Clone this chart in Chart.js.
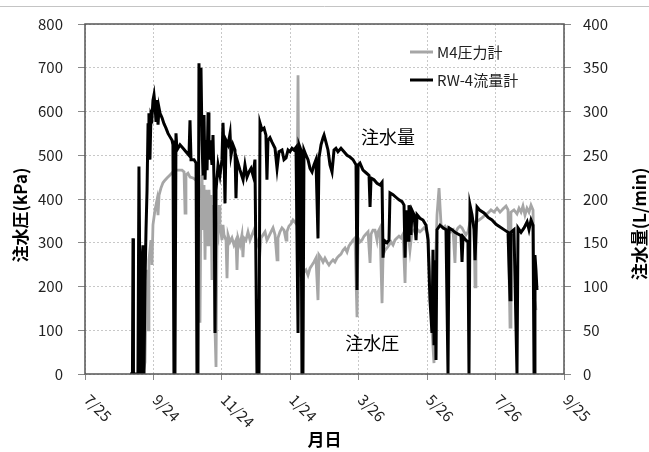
<!DOCTYPE html>
<html>
<head>
<meta charset="utf-8">
<script src="https://cdn.jsdelivr.net/npm/chart.js@4.4.1/dist/chart.umd.min.js"></script>
<style>
    html, body { margin: 0; padding: 0; background: #fff; }
    canvas { display: block; }
</style>
</head>
<body>
<canvas id="chart" width="649" height="452"></canvas>
<script>
// x values are days counted from 7/25
var tickLabels = ['7/25', '9/24', '11/24', '1/24', '3/26', '5/26', '7/26', '9/25'];

// M4圧力計 (kPa, left axis)
var pressureDays = [51.7,53.5,54.4,55.3,56.2,57.0,58.8,59.7,60.6,62.4,64.2,65.1,66.0,67.7,69.5,71.3,73.1,75.8,78.4,81.1,
    83.8,86.5,88.3,89.2,90.0,91.8,93.6,96.3,98.9,100.7,101.6,102.5,103.4,104.3,105.2,106.1,107.0,107.9,108.8,109.7,
    110.5,111.4,112.3,113.2,114.1,115.0,115.9,116.8,117.7,118.6,119.5,120.3,122.1,123.0,123.9,125.7,126.6,127.5,129.3,131.0,
    132.8,134.6,135.5,136.4,138.2,139.9,140.8,141.7,143.5,145.3,147.1,148.9,150.6,152.4,154.2,156.0,156.9,158.7,160.5,162.2,
    164.0,165.8,167.6,169.4,171.2,172.0,173.8,175.6,177.4,179.2,180.0,181.8,183.6,185.4,187.2,188.9,189.9,190.8,191.7,193.4,
    195.2,197.0,198.8,200.6,202.4,204.1,205.9,207.7,208.6,210.4,212.2,213.9,215.7,217.5,219.3,221.1,222.8,224.6,226.4,228.2,
    230.0,231.8,233.6,235.3,237.1,238.9,240.7,242.5,243.4,245.1,246.9,248.7,250.5,252.3,254.1,255.0,256.7,258.5,260.3,261.2,
    263.0,264.8,265.7,267.4,269.2,271.0,272.8,274.6,276.3,278.1,279.9,281.7,283.5,285.3,286.2,288.0,289.7,291.5,293.3,295.1,
    296.9,298.6,300.4,302.2,304.0,305.8,307.5,309.3,311.1,312.0,312.9,313.8,315.6,317.4,319.1,320.9,322.7,324.5,326.3,328.1,
    329.8,330.7,332.5,334.3,336.1,337.9,339.6,341.4,343.2,345.0,346.8,347.7,348.5,351.2,353.9,356.6,359.3,361.9,364.6,367.3,
    370.0,372.6,375.3,377.1,378.9,379.7,382.4,385.1,386.9,388.7,390.4,392.2,394.0,395.8,397.6,399.4,400.3,401.1,402.0];
var pressureValues = [0,27,169,238,101,261,306,249,341,375,398,363,409,425,437,443,448,455,462,466,
    466,466,462,368,455,459,450,448,443,466,283,117,398,455,329,432,261,421,398,295,
    421,363,409,215,386,283,101,16,329,318,386,341,306,341,318,306,219,318,302,311,
    295,306,238,311,295,318,267,311,306,325,306,318,329,311,295,279,311,318,325,306,
    315,325,334,318,261,311,325,334,329,306,325,338,343,352,347,341,683,283,226,219,
    233,238,226,242,249,256,265,169,272,265,256,265,256,249,256,261,256,265,270,274,
    283,288,279,293,299,306,311,130,311,302,306,315,320,325,254,320,329,329,306,325,
    334,162,272,283,288,295,302,295,306,311,315,311,320,208,315,325,283,325,329,320,
    329,325,329,334,329,318,215,101,25,169,283,363,425,341,334,338,329,334,325,329,
    254,325,334,338,334,325,318,325,347,352,347,199,347,352,357,363,368,375,370,379,
    370,377,384,375,107,370,375,366,379,370,384,363,379,370,386,375,192,169,146];

// RW-4流量計 (L/min, right axis)
var flowDays = [40.1,42.3,42.8,43.2,47.2,48.1,49.0,49.9,50.8,51.7,52.6,53.5,54.4,55.3,56.2,57.0,57.9,58.8,59.7,60.6,
    61.5,62.4,63.3,64.2,65.1,66.0,66.9,68.6,70.4,72.2,74.0,75.8,77.6,78.4,79.3,80.2,81.1,82.0,84.7,87.4,
    90.0,92.7,93.6,94.5,97.2,99.0,99.8,100.7,101.6,102.5,103.4,104.3,105.2,106.1,107.0,107.9,108.8,109.7,110.5,111.4,
    113.2,114.1,115.0,115.9,116.8,118.6,120.3,122.1,123.0,123.9,124.8,125.7,127.5,129.3,130.2,131.9,133.7,134.6,135.5,138.2,
    140.9,142.6,144.4,146.2,148.0,149.8,151.5,153.3,155.1,156.0,157.8,159.6,161.3,162.2,163.1,164.9,166.7,169.4,171.2,172.9,
    175.6,177.4,179.2,181.0,182.7,184.5,186.3,188.1,189.9,190.8,192.5,193.4,194.3,195.2,197.0,198.8,200.6,202.4,204.1,205.9,
    207.7,208.6,210.4,212.2,213.1,214.8,216.6,218.4,220.2,222.0,223.7,225.5,228.2,230.9,233.6,236.2,238.9,241.6,242.5,243.4,
    245.1,247.8,250.5,253.2,254.1,255.0,257.6,260.3,263.0,264.8,265.7,266.6,269.2,271.0,271.9,274.6,277.2,279.9,282.6,284.4,
    285.3,286.2,288.0,288.8,290.6,291.5,293.3,295.1,296.0,298.6,301.3,304.0,305.8,307.5,309.3,310.2,311.1,312.0,312.9,313.8,
    316.5,319.1,321.8,323.6,324.5,327.2,329.8,332.5,335.2,336.1,337.0,339.6,341.4,342.3,343.2,345.0,346.8,347.7,349.5,352.1,
    355.7,359.3,362.8,366.4,370.0,373.5,377.1,378.9,379.7,382.4,385.1,386.0,388.7,391.4,394.1,395.8,397.6,399.4,400.3,401.1,
    402.0,402.9];
var flowValues = [0,0,155,0,0,237,96,0,125,147,0,107,165,210,285,298,245,296,293,313,
    319,307,288,313,285,304,298,293,286,281,275,271,267,262,0,0,275,256,262,258,
    254,250,290,245,245,241,0,0,355,302,350,267,227,296,222,267,233,299,245,267,
    239,273,222,47,210,239,227,245,287,256,195,267,262,275,250,262,256,201,245,233,
    222,239,225,231,235,227,245,0,0,287,279,281,273,222,267,270,265,258,235,254,
    256,245,247,256,254,258,256,259,47,262,256,0,0,256,250,245,235,231,239,245,
    155,247,262,270,273,265,256,239,231,256,258,254,258,254,250,248,245,239,96,239,
    241,233,230,227,191,224,222,218,216,219,133,153,150,153,207,205,202,199,197,193,
    133,187,153,193,159,187,182,153,182,178,176,170,153,85,47,142,33,130,16,165,
    170,167,165,0,167,165,162,160,158,128,157,153,151,0,193,182,165,130,191,187,
    184,179,176,171,168,165,162,85,162,165,0,167,162,167,174,165,176,170,0,136,
    119,96];

var FONT = '"Noto Sans CJK JP", "Noto Sans", sans-serif';

function toPoints(xs, ys) {
    var pts = [];
    for (var i = 0; i < xs.length; i++) {
        pts.push({x: xs[i], y: ys[i]});
    }
    return pts;
}

var decorations = {
    id: 'decorations',
    beforeDraw: function(chart) {
        var ctx = chart.ctx;
        ctx.save();
        ctx.fillStyle = '#fff';
        ctx.fillRect(0, 0, chart.width, chart.height);
        ctx.strokeStyle = '#c4c4c4';
        ctx.lineWidth = 1;
        ctx.beginPath();
        ctx.moveTo(0, 6.5);
        ctx.lineTo(chart.width, 6.5);
        ctx.stroke();
        ctx.restore();
    },
    afterDraw: function(chart) {
        var ctx = chart.ctx;
        var area = chart.chartArea;
        var xs = chart.scales.x, yl = chart.scales.y, yr = chart.scales.y2;
        ctx.save();

        // plot frame
        ctx.strokeStyle = '#555';
        ctx.lineWidth = 1.5;
        ctx.strokeRect(area.left, area.top, area.right - area.left, area.bottom - area.top);

        // slanted date labels
        ctx.fillStyle = '#222';
        ctx.font = '15px ' + FONT;
        ctx.textAlign = 'left';
        ctx.textBaseline = 'middle';
        xs.ticks.forEach(function(t, i) {
            var px = xs.getPixelForValue(t.value);
            ctx.save();
            ctx.translate(px + 2, area.bottom + 23);
            ctx.rotate(Math.PI / 4);
            ctx.fillText(tickLabels[i] || '', 0, 0);
            ctx.restore();
        });

        // axis titles
        ctx.fillStyle = '#000';
        ctx.font = 'bold 17px ' + FONT;
        ctx.textAlign = 'center';
        ctx.fillText('月日', (area.left + area.right) / 2, 440);
        ctx.save();
        ctx.translate(21, 215);
        ctx.rotate(-Math.PI / 2);
        ctx.fillText('注水圧(kPa)', 0, 0);
        ctx.restore();
        ctx.save();
        ctx.translate(640, 224);
        ctx.rotate(-Math.PI / 2);
        ctx.fillText('注水量(L/min)', 0, 0);
        ctx.restore();

        // labels next to the curves
        ctx.font = '18px ' + FONT;
        ctx.fillText('注水量', xs.getPixelForValue(270), yr.getPixelForValue(271));
        ctx.fillText('注水圧', xs.getPixelForValue(256), yl.getPixelForValue(71));

        // legend
        var lx = 410, items = [['M4圧力計', '#a6a6a6', 52], ['RW-4流量計', '#000', 80]];
        ctx.font = '15px ' + FONT;
        ctx.textAlign = 'left';
        items.forEach(function(it) {
            ctx.strokeStyle = it[1];
            ctx.lineWidth = 3;
            ctx.beginPath();
            ctx.moveTo(lx, it[2]);
            ctx.lineTo(lx + 23, it[2]);
            ctx.stroke();
            ctx.fillStyle = '#222';
            ctx.fillText(it[0], lx + 27, it[2]);
        });
        ctx.restore();
    }
};

var gridColor = '#c8c8c8';

new Chart(document.getElementById('chart').getContext('2d'), {
    type: 'line',
    data: {
        datasets: [{
            label: 'M4圧力計',
            data: toPoints(pressureDays, pressureValues),
            yAxisID: 'y',
            borderColor: '#a6a6a6',
            borderWidth: 2.8,
            pointRadius: 0,
            tension: 0,
            order: 2
        }, {
            label: 'RW-4流量計',
            data: toPoints(flowDays, flowValues),
            yAxisID: 'y2',
            borderColor: '#000',
            borderWidth: 3,
            pointRadius: 0,
            tension: 0,
            order: 1
        }]
    },
    options: {
        responsive: false,
        animation: false,
        devicePixelRatio: 1,
        layout: { padding: { top: 24, left: 0, right: 0, bottom: 0 } },
        plugins: {
            legend: { display: false },
            tooltip: { enabled: false }
        },
        scales: {
            x: {
                type: 'linear',
                min: 0,
                max: 427,
                ticks: { stepSize: 61, display: false },
                grid: { color: gridColor, tickLength: 6, tickColor: '#888' },
                border: { display: false, dash: [2, 2] },
                afterFit: function(s) { s.height = 78; }
            },
            y: {
                position: 'left',
                min: 0,
                max: 800,
                ticks: { stepSize: 100, padding: 15, color: '#222', font: { family: FONT, size: 15 } },
                grid: { color: gridColor, tickLength: 7, tickColor: '#888' },
                border: { display: false, dash: [2, 2] },
                afterFit: function(s) { s.width = 85; }
            },
            y2: {
                position: 'right',
                min: 0,
                max: 400,
                ticks: { stepSize: 50, padding: 12, color: '#222', font: { family: FONT, size: 15 } },
                grid: { drawOnChartArea: false, tickLength: 7, tickColor: '#888' },
                border: { display: false },
                afterFit: function(s) { s.width = 85; }
            }
        }
    },
    plugins: [decorations]
});
</script>
</body>
</html>
